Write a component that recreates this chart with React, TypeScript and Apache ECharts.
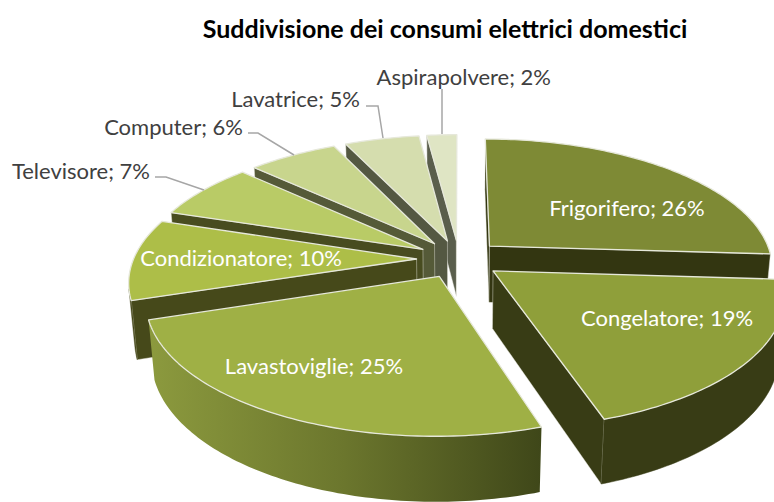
import React, { useEffect, useRef } from "react";
import * as echarts from "echarts";

const categories = ["Frigorifero", "Congelatore", "Lavastoviglie", "Condizionatore", "Televisore", "Computer", "Lavatrice", "Aspirapolvere"];
const shares = [26, 19, 25, 10, 7, 6, 5, 2];
const titleText = "Suddivisione dei consumi elettrici domestici";

const topColors = ["#7E8A35", "#8F9F3A", "#9FB045", "#ADBE48", "#B9CB66", "#C8D58D", "#D5DDAE", "#DFE5C4"];
const wallColors = ["#333611", "#383C15", "#40471B", "#46491A", "#484C20", "#555A38", "#545842", "#5A5E4C"];

const insideLabels: Record<number, [number, number]> = {
  0: [627, 207],
  1: [667, 317],
  2: [314, 365],
  3: [241, 257],
};
const outsideLabels: Record<number, { right: number; y: number; line: number[][] }> = {
  4: { right: 150, y: 170, line: [[155, 177], [166, 177], [204, 190]] },
  5: { right: 243, y: 126, line: [[248, 133], [258, 133], [294, 155]] },
  6: { right: 360, y: 98, line: [[366, 106], [378, 106], [383, 138]] },
  7: { right: 551, y: 76, line: [[442, 89], [442, 134]] },
};

// camera model of the tilted pie
const CX = 459;
const CY = 259;
const RX = 283;
const RY = 128;
const PERSP = 0.16;
const DROP = 0.018;
const HEIGHT = 58;
const EXPLODE = 0.15;

const project = (x: number, y: number, h: number): number[] => {
  const w = 1 + PERSP * y + DROP * h;
  return [CX + (RX * x) / w, CY + (-RY * y + HEIGHT * h) / w];
};

const total = shares.reduce((a, b) => a + b, 0);
const starts: number[] = [];
shares.reduce((acc, v, i) => {
  starts[i] = acc;
  return acc + v;
}, 0);
const toAngle = (v: number) => (v / total) * Math.PI * 2;

const depthOrder = shares
  .map((_, i) => i)
  .sort((a, b) => Math.cos(toAngle(starts[b] + shares[b] / 2)) - Math.cos(toAngle(starts[a] + shares[a] / 2)));

const quadVisible = (a: number[], b: number[], c: number[], d: number[]) => {
  const pts = [a, b, c, d];
  let s = 0;
  for (let i = 0; i < 4; i++) {
    const p = pts[i];
    const q = pts[(i + 1) % 4];
    s += p[0] * q[1] - q[0] * p[1];
  }
  return s < 0;
};

const renderSlice = (_params: any, api: any) => {
  const i = api.value(0);
  const a0 = toAngle(starts[i]);
  const a1 = toAngle(starts[i] + shares[i]);
  const mid = (a0 + a1) / 2;
  const ox = EXPLODE * Math.sin(mid);
  const oy = EXPLODE * Math.cos(mid);
  const steps = Math.max(6, Math.round(((a1 - a0) * 180) / Math.PI));
  const rim: number[][] = [];
  for (let s = 0; s <= steps; s++) {
    const t = a0 + ((a1 - a0) * s) / steps;
    rim.push([ox + Math.sin(t), oy + Math.cos(t)]);
  }
  const top = (m: number[]) => project(m[0], m[1], 0);
  const bot = (m: number[]) => project(m[0], m[1], 1);
  const apex = [ox, oy];
  const children: any[] = [];
  const wallStroke = "rgba(235,235,225,0.55)";

  const cutWall = (p: number[], q: number[]) => {
    if (quadVisible(top(p), top(q), bot(q), bot(p))) {
      children.push({
        type: "polygon",
        shape: { points: [top(p), top(q), bot(q), bot(p)] },
        style: { fill: wallColors[i], stroke: wallStroke, lineWidth: 0.8 },
      });
    }
  };
  cutWall(apex, rim[0]);
  cutWall(rim[rim.length - 1], apex);

  const vis: number[][] = [];
  for (let s = 0; s < steps; s++) {
    if (quadVisible(top(rim[s]), top(rim[s + 1]), bot(rim[s + 1]), bot(rim[s]))) {
      if (!vis.length) vis.push(rim[s]);
      vis.push(rim[s + 1]);
    }
  }
  if (vis.length) {
    const fill =
      i === 2
        ? new echarts.graphic.LinearGradient(0, 0, 1, 0, [
            { offset: 0, color: "#8C9A3E" },
            { offset: 0.5, color: "#6B762D" },
            { offset: 1, color: "#3F4719" },
          ])
        : wallColors[i];
    children.push({
      type: "polygon",
      shape: { points: [...vis.map(top), ...vis.slice().reverse().map(bot)] },
      style: { fill, stroke: fill === wallColors[i] ? wallColors[i] : "none", lineWidth: 0.5 },
    });
  }

  children.push({
    type: "polygon",
    shape: { points: [top(apex), ...rim.map(top)] },
    style: { fill: topColors[i], stroke: "#E6E8DA", lineWidth: 1.3, lineJoin: "round" },
  });

  const text = `${categories[i]}; ${shares[i]}%`;
  if (insideLabels[i]) {
    children.push({
      type: "text",
      z2: 100,
      style: {
        text,
        x: insideLabels[i][0],
        y: insideLabels[i][1],
        fill: "#FFFFFF",
        font: "22px Lato",
        textAlign: "center",
        textVerticalAlign: "middle",
      },
    });
  } else {
    const o = outsideLabels[i];
    children.push({
      type: "text",
      z2: 100,
      style: { text, x: o.right, y: o.y, fill: "#404040", font: "22px Lato", textAlign: "right", textVerticalAlign: "middle" },
    });
    children.push({
      type: "polyline",
      z2: 99,
      shape: { points: o.line },
      style: { stroke: "#A6A6A6", lineWidth: 1.5, fill: "none" },
    });
  }
  return { type: "group", children };
};

export default function App() {
  const ref = useRef<HTMLDivElement>(null);
  useEffect(() => {
    const chart = echarts.init(ref.current!, undefined, { renderer: "svg" });
    chart.setOption({
      animation: false,
      backgroundColor: "#FFFFFF",
      title: {
        text: titleText,
        left: 440,
        top: 10,
        textAlign: "center",
        textStyle: { fontFamily: "Lato", fontWeight: "bold", fontSize: 25, color: "#000000" },
      },
      series: [
        {
          type: "custom",
          coordinateSystem: "none",
          silent: true,
          clip: false,
          renderItem: renderSlice,
          data: depthOrder.map((i) => [i, shares[i]]),
        },
      ],
    });
    return () => chart.dispose();
  }, []);
  return <div ref={ref} style={{ position: "absolute", left: 0, top: 0, width: 774, height: 502 }} />;
}
